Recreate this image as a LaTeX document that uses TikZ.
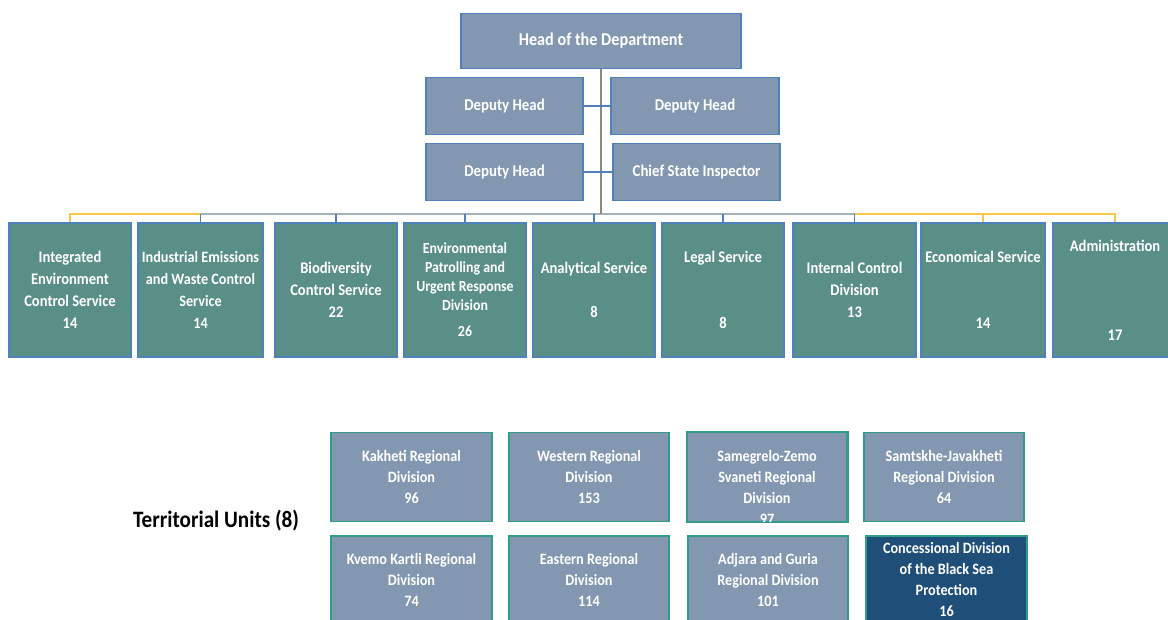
\documentclass[tikz,border=0pt]{standalone}
\usepackage{fontspec}
\setmainfont{Carlito}[FakeStretch=0.9]
\definecolor{topfill}{HTML}{8497B0}
\definecolor{topline}{HTML}{4F81BD}
\definecolor{tealfill}{HTML}{5A8F87}
\definecolor{terrline}{HTML}{2E9E8A}
\definecolor{navy}{HTML}{1F4E79}
\definecolor{ylw}{HTML}{F9C846}
\definecolor{trunkc}{HTML}{7F8F7A}
\definecolor{busc}{HTML}{A3B3BC}
\begin{document}
\begin{tikzpicture}[x=1pt,y=-1pt,
  every node/.style={font=\bfseries\fontsize{16.2}{22}\selectfont, text=white, align=center, inner sep=0pt},
  topbox/.style={draw=topline, fill=topfill, line width=1.3pt, minimum height=57, font=\bfseries\fontsize{16.5}{22}\selectfont},
  unitbox/.style={draw=topline, fill=tealfill, line width=1.3pt, minimum height=134},
  terrbox/.style={draw=terrline, fill=topfill, line width=1.5pt, font=\bfseries\fontsize{15.8}{21}\selectfont},
  conn/.style={draw=topline, line width=1.2pt},
  yconn/.style={draw=ylw, line width=1.2pt},
]
\useasboundingbox (0,0) rectangle (1168,619);
\clip (0,0) rectangle (1168,619);

% top level
\node[topbox, minimum width=280, minimum height=55, font=\bfseries\fontsize{18}{22}\selectfont] (head) at (601,41) {Head of the Department};
\node[topbox, minimum width=157] (dh1) at (504.5,106) {Deputy Head};
\node[topbox, minimum width=168] (dh2) at (695,106) {Deputy Head};
\node[topbox, minimum width=157] (dh3) at (504.5,172) {Deputy Head};
\node[topbox, minimum width=167] (chief) at (696.5,172) {Chief State Inspector};

% units
\node[unitbox, minimum width=122] (b1) at (70,290) {Integrated\\Environment\\Control Service\\14};
\node[unitbox, minimum width=125, font=\bfseries\fontsize{15.8}{22}\selectfont] (b2) at (200.5,290) {Industrial Emissions\\and Waste Control\\Service\\14};
\node[unitbox, minimum width=122] (b3) at (336,290) {Biodiversity\\Control Service\\22};
\node[unitbox, minimum width=122, font=\bfseries\fontsize{15.4}{19}\selectfont] (b4) at (465,290) {Environmental\\Patrolling and\\Urgent Response\\Division\\[7pt]26};
\node[unitbox, minimum width=122] (b5) at (594,290) {Analytical Service\\[22pt]8};
\node[unitbox, minimum width=122] (b6) at (723,290) {Legal Service\\[44pt]8};
\node[unitbox, minimum width=123] (b7) at (854.5,290) {Internal Control\\Division\\13};
\node[unitbox, minimum width=124] (b8) at (983,290) {Economical Service\\[44pt]14};
\node[unitbox, minimum width=124] (b9) at (1115,290) {Administration\\[67pt]17};

% connectors
\coordinate (busL) at (70,214);
\draw[yconn] (b1.north) -- (b1.north |- busL) -- (b9.north |- busL) -- (b9.north);
\draw[yconn] (b8.north) -- (b8.north |- busL);
\draw[draw=busc, line width=1.4pt] (b2.north |- busL) -- (b7.north |- busL);
\foreach \b in {b2,b3,b4,b5,b6,b7} \draw[conn] (\b.north |- busL) -- (\b.north);
\draw[draw=trunkc, line width=1.4pt] (head.south) -- (head.south |- busL);
\draw[conn] (dh1.east) -- (dh1.east -| head.south) -- (dh2.west);
\draw[conn] (dh3.east) -- (dh3.east -| head.south) -- (chief.west);

% territorial units
\node[font=\bfseries\fontsize{23.5}{26}\selectfont, text=black] (tu) at (216,521) {Territorial Units (8)};
\node[terrbox, minimum width=161, minimum height=89] (k1) at (411.5,477) {Kakheti Regional\\Division\\96};
\node[terrbox, minimum width=160, minimum height=89] (k2) at (589,477) {Western Regional\\Division\\153};
\node[terrbox, minimum width=160, minimum height=89] (k3) at (767,477) {};
\begin{scope}
\clip (k3.south west) rectangle (k3.north east);
\node[font=\bfseries\fontsize{15.8}{21}\selectfont] (k3t) at (767,487) {Samegrelo-Zemo\\Svaneti Regional\\Division\\97};
\end{scope}
\draw[draw=terrline, line width=1.5pt] (k3.south west) rectangle (k3.north east);
\node[terrbox, minimum width=160, minimum height=89] (k4) at (944,477) {Samtskhe-Javakheti\\Regional Division\\64};
\node[terrbox, minimum width=161, minimum height=88] (k5) at (411.5,580) {Kvemo Kartli Regional\\Division\\74};
\node[terrbox, minimum width=160, minimum height=88] (k6) at (589,580) {Eastern Regional\\Division\\114};
\node[terrbox, minimum width=160, minimum height=88] (k7) at (768,580) {Adjara and Guria\\Regional Division\\101};
\node[terrbox, fill=navy, minimum width=161, minimum height=88] (k8) at (946.5,580) {Concessional Division\\of the Black Sea\\Protection\\16};
\end{tikzpicture}
\end{document}
